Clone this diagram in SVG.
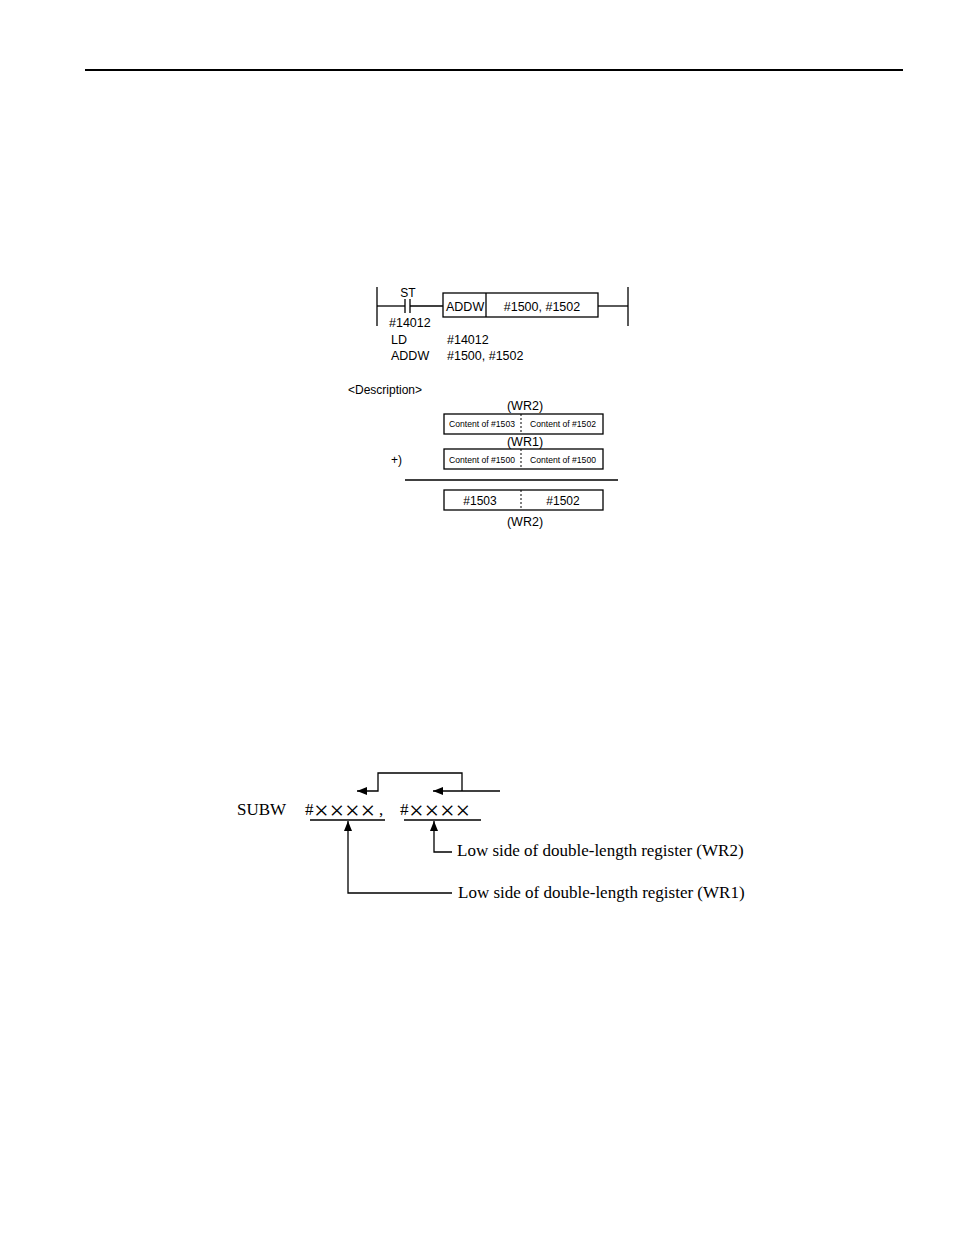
<svg xmlns="http://www.w3.org/2000/svg" width="954" height="1235" viewBox="0 0 954 1235">
<defs>
<style>
.s{font-family:"Liberation Sans",Arial,sans-serif;fill:#000}
.t{font-family:"Liberation Serif","Times New Roman",serif;fill:#000;font-size:17px}
.x{font-family:"Liberation Serif","Times New Roman",serif;font-size:26px}
.ln{stroke:#000;stroke-width:1.3;fill:none}
.bx{stroke:#000;stroke-width:1.3;fill:#fff}
.dv{stroke:#000;stroke-width:1;stroke-dasharray:2,2}
</style>
<marker id="ah" viewBox="0 0 10 8" refX="10" refY="4" markerWidth="10" markerHeight="8" markerUnits="userSpaceOnUse" orient="auto">
<path d="M0,0 L10,4 L0,8 Z" fill="#000"/>
</marker>
</defs>
<rect width="954" height="1235" fill="#fff"/>
<line x1="85" y1="70" x2="903" y2="70" stroke="#000" stroke-width="2"/>

<g id="ladder">
<line class="ln" x1="377" y1="287" x2="377" y2="326"/>
<line class="ln" x1="628" y1="287" x2="628" y2="326"/>
<line class="ln" x1="377" y1="306" x2="405" y2="306"/>
<line class="ln" x1="405" y1="299" x2="405" y2="313"/>
<line class="ln" x1="410" y1="299" x2="410" y2="313"/>
<line class="ln" x1="410" y1="306" x2="443" y2="306"/>
<line class="ln" x1="598" y1="306" x2="628" y2="306"/>
<text class="s" x="408" y="297" font-size="12" text-anchor="middle">ST</text>
<text class="s" x="389" y="327" font-size="12.5">#14012</text>
</g>
<g id="addw-box">
<rect class="bx" x="443" y="293" width="155" height="24"/>
<line class="ln" x1="486" y1="293" x2="486" y2="317"/>
<text class="s" x="446" y="311" font-size="12.5">ADDW</text>
<text class="s" x="542" y="311" font-size="12.5" text-anchor="middle">#1500, #1502</text>
</g>
<g id="listing">
<text class="s" x="391" y="344" font-size="12.5">LD</text>
<text class="s" x="447" y="344" font-size="12.5">#14012</text>
<text class="s" x="391" y="360" font-size="12.5">ADDW</text>
<text class="s" x="447" y="360" font-size="12.5">#1500, #1502</text>
</g>
<g id="description">
<text class="s" x="348" y="394" font-size="12">&lt;Description&gt;</text>
<text class="s" x="525" y="410" font-size="12.5" text-anchor="middle">(WR2)</text>
</g>
<g id="wr2-box">
<rect class="bx" x="444" y="414" width="159" height="20"/>
<line class="dv" x1="521" y1="414" x2="521" y2="434"/>
<text class="s" x="482" y="427" font-size="8.6" text-anchor="middle">Content of #1503</text>
<text class="s" x="563" y="427" font-size="8.6" text-anchor="middle">Content of #1502</text>
</g>
<g id="wr1-box">
<text class="s" x="525" y="446" font-size="12.5" text-anchor="middle">(WR1)</text>
<text class="s" x="391" y="464" font-size="12">+)</text>
<rect class="bx" x="444" y="449" width="159" height="20"/>
<line class="dv" x1="521" y1="449" x2="521" y2="469"/>
<text class="s" x="482" y="463" font-size="8.6" text-anchor="middle">Content of #1500</text>
<text class="s" x="563" y="463" font-size="8.6" text-anchor="middle">Content of #1500</text>
</g>
<line class="ln" x1="405" y1="480" x2="618" y2="480"/>
<g id="result-box">
<rect class="bx" x="444" y="490" width="159" height="20"/>
<line class="dv" x1="521" y1="490" x2="521" y2="510"/>
<text class="s" x="480" y="505" font-size="12" text-anchor="middle">#1503</text>
<text class="s" x="563" y="505" font-size="12" text-anchor="middle">#1502</text>
<text class="s" x="525" y="526" font-size="12.5" text-anchor="middle">(WR2)</text>
</g>

<g id="subw">
<text class="t" x="237" y="815">SUBW</text>
<text class="t" x="305" y="815">#<tspan class="x" x="314 329.5 345 360.5" y="819">××××</tspan><tspan x="379" y="815">,</tspan></text>
<text class="t" x="400" y="815">#<tspan class="x" x="409 424.5 440 455.5" y="819">××××</tspan></text>
<line class="ln" x1="310" y1="820" x2="385" y2="820"/>
<line class="ln" x1="404" y1="820" x2="481" y2="820"/>
</g>
<g id="label-wr2">
<text class="t" x="457" y="856">Low side of double-length register (WR2)</text>
</g>
<g id="label-wr1">
<text class="t" x="458" y="898">Low side of double-length register (WR1)</text>
</g>
<g id="connectors">
<path class="ln" d="M500,791 H433" marker-end="url(#ah)"/>
<path class="ln" d="M462,791 V773 H378 V791 H357" marker-end="url(#ah)"/>
<path class="ln" d="M452,852 H434 V821" marker-end="url(#ah)"/>
<path class="ln" d="M452,893 H348 V821" marker-end="url(#ah)"/>
</g>
</svg>
